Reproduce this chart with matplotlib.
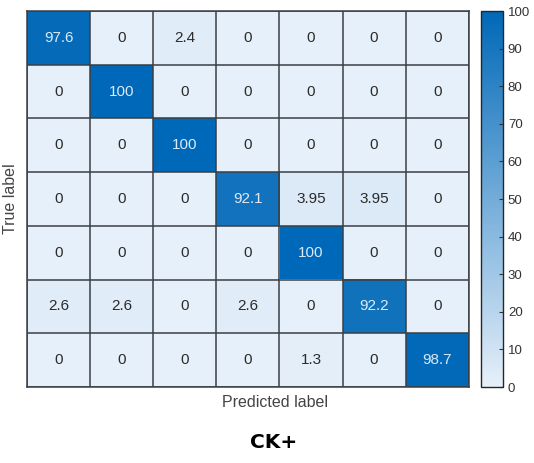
import numpy as np
import matplotlib
matplotlib.use("Agg")
import matplotlib.pyplot as plt
from matplotlib.colors import LinearSegmentedColormap

# Confusion matrix values (percent), rows = true label, cols = predicted label
row1 = [97.6, 0, 2.4, 0, 0, 0, 0]
row2 = [0, 100, 0, 0, 0, 0, 0]
row3 = [0, 0, 100, 0, 0, 0, 0]
row4 = [0, 0, 0, 92.1, 3.95, 3.95, 0]
row5 = [0, 0, 0, 0, 100, 0, 0]
row6 = [2.6, 2.6, 0, 2.6, 0, 92.2, 0]
row7 = [0, 0, 0, 0, 1.3, 0, 98.7]
cbar_ticks = [0, 10, 20, 30, 40, 50, 60, 70, 80, 90, 100]

cm = np.array([row1, row2, row3, row4, row5, row6, row7])
n = cm.shape[0]

cmap = LinearSegmentedColormap.from_list("mblue", ["#e6f0fa", "#0068b8"])

plt.rcParams['font.family'] = ['Liberation Sans', 'DejaVu Sans']
fig = plt.figure(figsize=(5.34, 4.63), dpi=100)
ax = fig.add_axes([27 / 534, 1 - 387 / 463, (468.7 - 27) / 534, (387 - 11) / 463])
cax = fig.add_axes([481 / 534, 1 - 387 / 463, 22 / 534, (387 - 11) / 463])

im = ax.imshow(cm, cmap=cmap, vmin=0, vmax=100, aspect='auto')

# cell borders
for k in range(n + 1):
    ax.axhline(k - 0.5, color='#3a3f44', lw=1.1)
    ax.axvline(k - 0.5, color='#3a3f44', lw=1.1)

for i in range(n):
    for j in range(n):
        v = cm[i, j]
        label = f"{v:g}"
        color = '#dce9f6' if v > 50 else '#2b2b2b'
        ax.text(j, i, label, ha='center', va='center', fontsize=11, color=color)

ax.set_xticks([])
ax.set_yticks([])
for s in ax.spines.values():
    s.set_color('#3a3f44')
    s.set_linewidth(1.1)

cb = fig.colorbar(im, cax=cax, ticks=cbar_ticks)
cb.outline.set_edgecolor('#262626')
cb.outline.set_linewidth(1.0)
cax.tick_params(labelsize=9.5, colors='#333333', direction='in', length=3, width=0.8)

fig.text(275 / 534, 1 - 402.5 / 463, 'Predicted label', ha='center', va='center',
         fontsize=11.5, color='#444444')
fig.text(11 / 534, 1 - 199 / 463, 'True label', ha='center', va='center',
         fontsize=11.5, color='#444444', rotation=90)
fig.text(273.5 / 534, 1 - 442 / 463, 'CK+', ha='center', va='center',
         fontsize=14.5, fontweight='bold', color='black', family='DejaVu Sans')

fig.savefig('out.png', dpi=100)
